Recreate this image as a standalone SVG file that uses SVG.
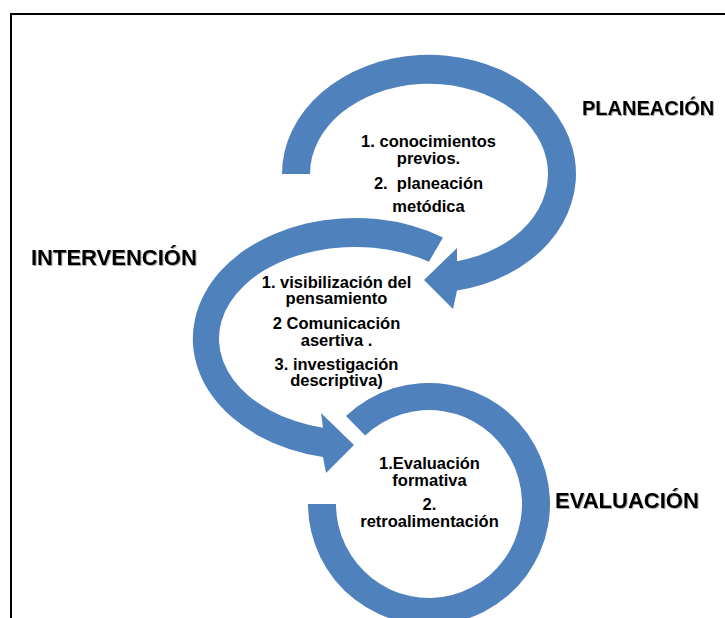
<svg xmlns="http://www.w3.org/2000/svg" width="725" height="618" viewBox="0 0 725 618">
  <style>
    .ring { fill: #4F81BD; }
    .t { font-family: "Liberation Sans", Arial, sans-serif; font-weight: bold; font-size: 16.5px; fill: #000; text-anchor: middle; }
    .lbl { font-family: "Liberation Sans", Arial, sans-serif; font-weight: bold; font-size: 22px; fill: #000; filter: url(#sh); }
  </style>
  <defs>
    <filter id="sh" x="-5%" y="-30%" width="110%" height="160%">
      <feDropShadow dx="1" dy="1" stdDeviation="0.7" flood-color="#000" flood-opacity="0.35"/>
    </filter>
  </defs>
  <rect width="725" height="618" fill="#fff"/>
  <path d="M11,620 L11,14 L727,14" fill="none" stroke="#000" stroke-width="2"/>

  <g id="planeacion">
    <path class="ring" d="M282,174 A147 119 0 1 1 457,290.6 L453,309 L424,280 L457,248 L457,261.3 A119 90 0 1 0 310,174 Z"/>
    <text class="t" x="428.5" y="146.5">1. conocimientos</text>
    <text class="t" x="428.5" y="163.5">previos.</text>
    <text class="t" x="428.5" y="188.5" xml:space="preserve">2.  planeación</text>
    <text class="t" x="428.5" y="211.5">metódica</text>
    <text class="lbl" x="582" y="115" style="font-size:20px">PLANEACIÓN</text>
  </g>

  <g id="intervencion">
    <path class="ring" d="M443,237.4 A162 120.7 0 1 0 323,457 L326,473 L354,445 L321,413 L323,427.8 A136 91.7 0 1 1 428.9,261.7 Z"/>
    <text class="t" x="336.5" y="287.5">1. visibilización del</text>
    <text class="t" x="336.5" y="304">pensamiento</text>
    <text class="t" x="336.5" y="328.5">2 Comunicación</text>
    <text class="t" x="336.5" y="345.5">asertiva .</text>
    <text class="t" x="336.5" y="369.5">3. investigación</text>
    <text class="t" x="336.5" y="386">descriptiva)</text>
    <text class="lbl" x="31" y="265">INTERVENCIÓN</text>
  </g>

  <g id="evaluacion">
    <path class="ring" d="M308,504 A121 121 0 1 0 346,415.9 L365.2,435.6 A93 94 0 1 1 336,504 Z"/>
    <text class="t" x="429.5" y="469">1.Evaluación</text>
    <text class="t" x="429.5" y="485.5">formativa</text>
    <text class="t" x="429.5" y="510">2.</text>
    <text class="t" x="429.5" y="526.5">retroalimentación</text>
    <text class="lbl" x="555" y="508">EVALUACIÓN</text>
  </g>

  <g id="connectors"/>
</svg>
